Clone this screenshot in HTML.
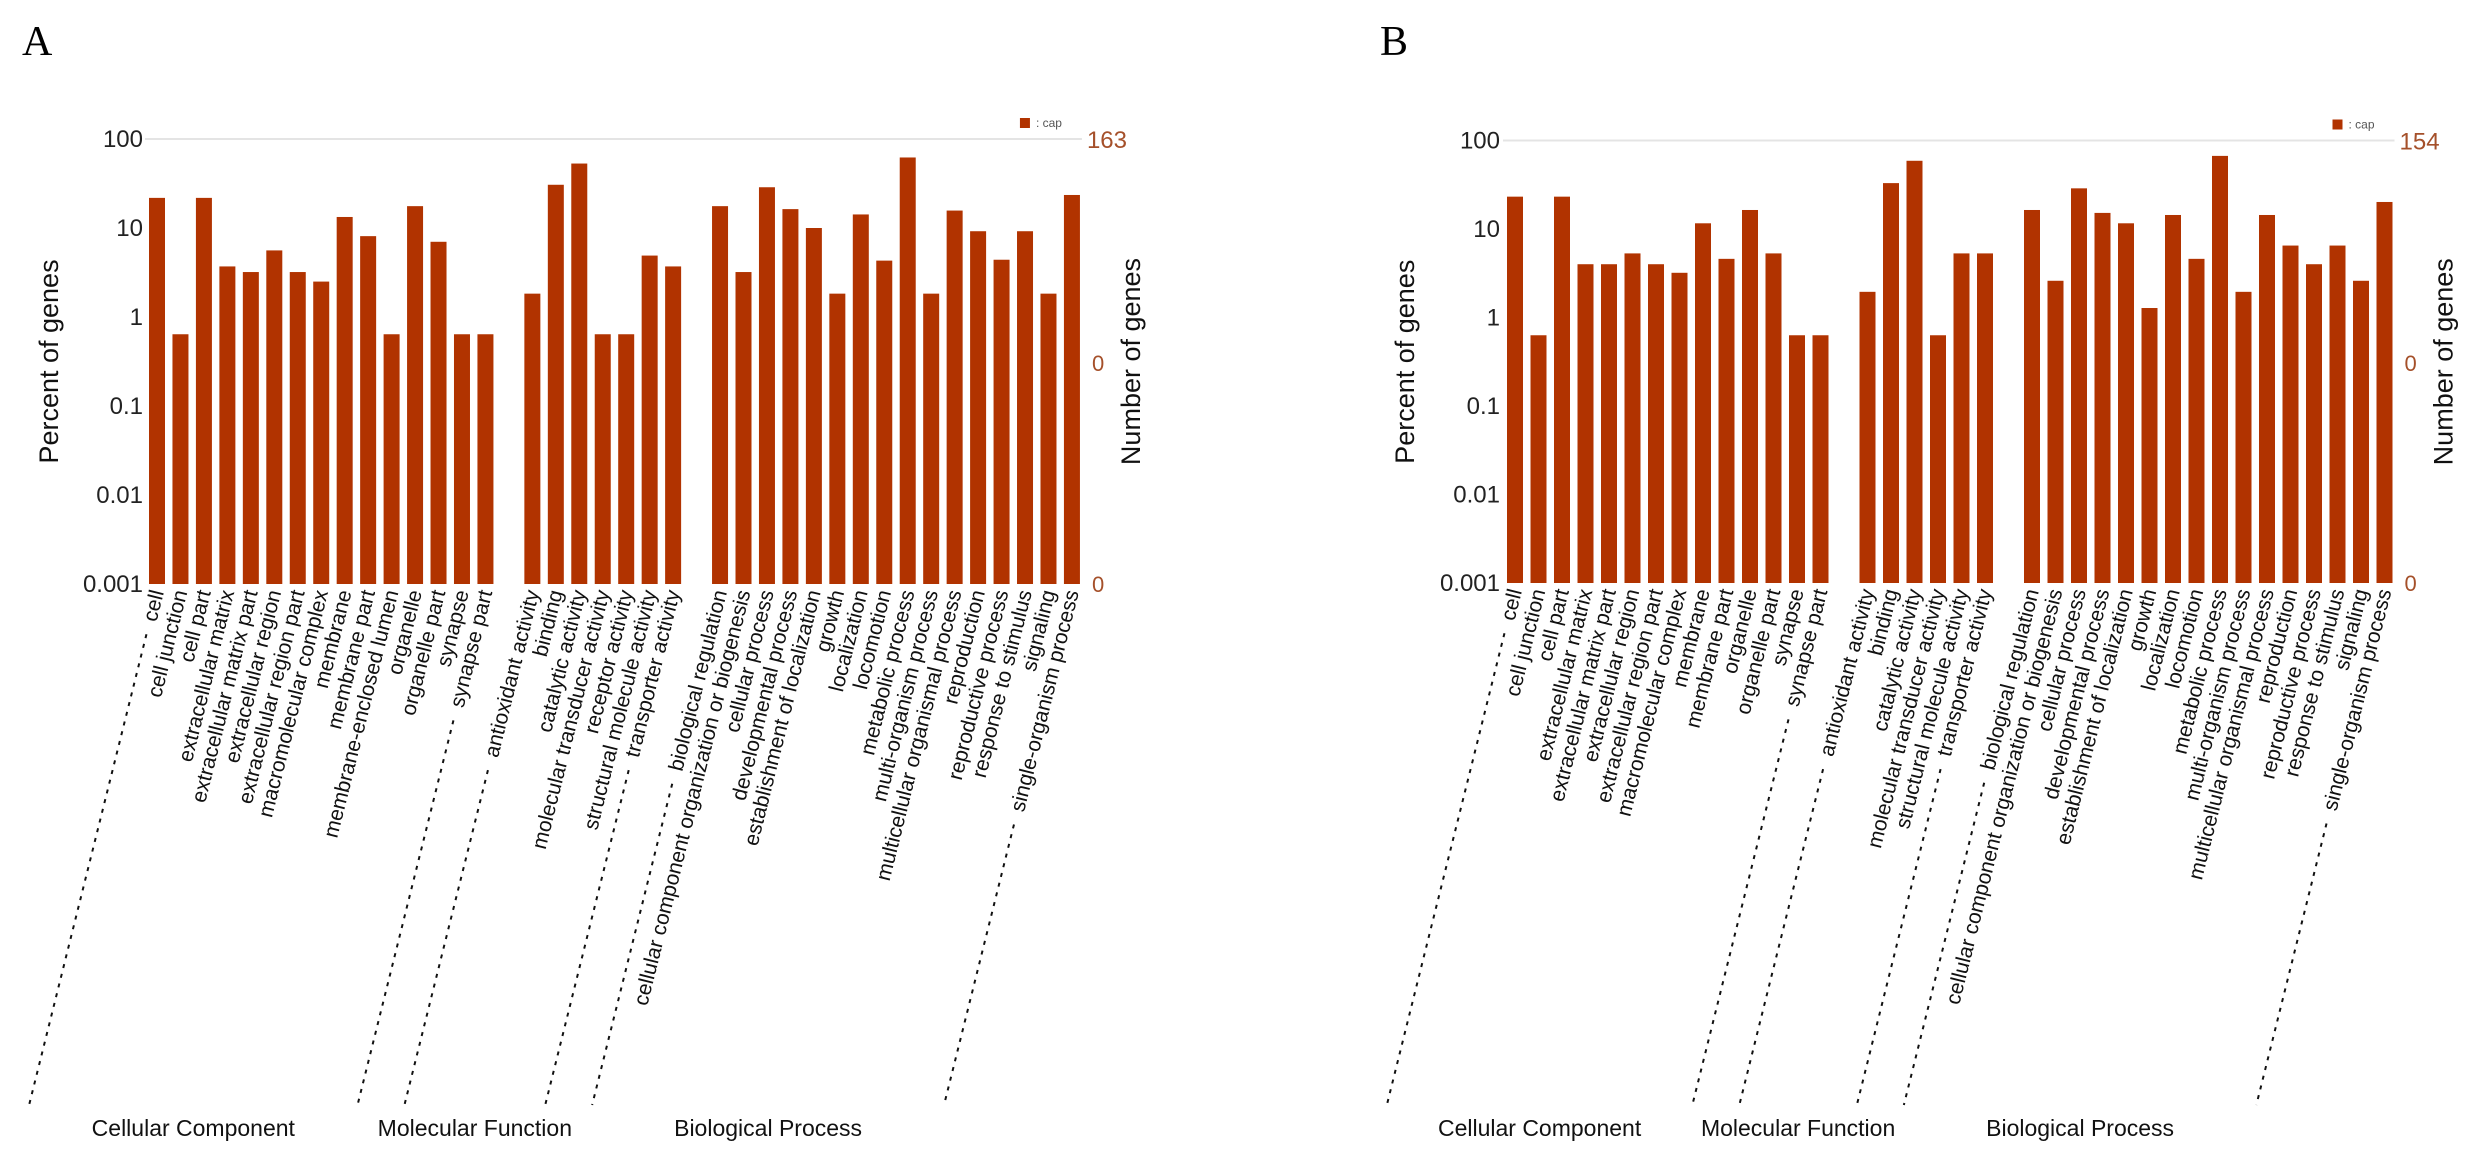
<!DOCTYPE html>
<html><head><meta charset="utf-8"><style>
html,body{margin:0;padding:0;background:#fff;}
svg{display:block;}
text{font-family:"Liberation Sans",sans-serif;}
</style></head><body>
<svg id="fig" width="2466" height="1155" viewBox="0 0 2466 1155" xmlns="http://www.w3.org/2000/svg">
<rect width="2466" height="1155" fill="#fff"/>
<text x="22" y="55" font-size="42" style="font-family:'Liberation Serif',serif" fill="#000">A</text>
<text x="1380" y="55" font-size="42" style="font-family:'Liberation Serif',serif" fill="#000">B</text>
</svg>
<script>
// ---- data ----
const groupNames = ["Cellular Component","Molecular Function","Biological Process"];
const ccLabelsA = ["cell","cell junction","cell part","extracellular matrix","extracellular matrix part","extracellular region","extracellular region part","macromolecular complex","membrane","membrane part","membrane-enclosed lumen","organelle","organelle part","synapse","synapse part"];
const ccValuesA = [21.8,0.64,21.8,3.7,3.2,5.6,3.2,2.5,13.3,8.1,0.64,17.6,7.0,0.64,0.64];
const mfLabelsA = ["antioxidant activity","binding","catalytic activity","molecular transducer activity","receptor activity","structural molecule activity","transporter activity"];
const mfValuesA = [1.83,30.6,53,0.64,0.64,4.9,3.7];
const bpLabelsA = ["biological regulation","cellular component organization or biogenesis","cellular process","developmental process","establishment of localization","growth","localization","locomotion","metabolic process","multi-organism process","multicellular organismal process","reproduction","reproductive process","response to stimulus","signaling","single-organism process"];
const bpValuesA = [17.6,3.2,28.7,16.3,10,1.83,14.2,4.3,62,1.83,15.7,9.2,4.4,9.2,1.83,23.5];
const ccLabelsB = ["cell","cell junction","cell part","extracellular matrix","extracellular matrix part","extracellular region","extracellular region part","macromolecular complex","membrane","membrane part","organelle","organelle part","synapse","synapse part"];
const ccValuesB = [23.2,0.63,23.2,4.0,4.0,5.3,4.0,3.2,11.6,4.6,16.4,5.3,0.63,0.63];
const mfLabelsB = ["antioxidant activity","binding","catalytic activity","molecular transducer activity","structural molecule activity","transporter activity"];
const mfValuesB = [1.95,33,59,0.63,5.3,5.3];
const bpLabelsB = ["biological regulation","cellular component organization or biogenesis","cellular process","developmental process","establishment of localization","growth","localization","locomotion","metabolic process","multi-organism process","multicellular organismal process","reproduction","reproductive process","response to stimulus","signaling","single-organism process"];
const bpValuesB = [16.4,2.6,28.8,15.2,11.6,1.28,14.4,4.6,67,1.95,14.4,6.5,4.0,6.5,2.6,20.2];
const yTickLabels = ["100","10","1","0.1","0.01","0.001"];
const yTickValues = [100,10,1,0.1,0.01,0.001];
const rightMaxA = "163";
const rightMaxB = "154";

const NS = "http://www.w3.org/2000/svg";
const svg = document.getElementById("fig");
function el(tag, attrs, parent){
  const e = document.createElementNS(NS, tag);
  for (const k in attrs) e.setAttribute(k, attrs[k]);
  (parent||svg).appendChild(e);
  return e;
}
const BAR = "#b13300";
const ANG = -76;
const rad = ANG*Math.PI/180;
const dx = Math.cos(rad), dy = Math.sin(rad);

function drawPanel(p, groups, rightMax, tag){
  const g = el("g", {});
  
  
  const yScale = v => p.y100 + (2 - Math.log10(v)) * p.dec;
  const yBase = yScale(0.001);
  const nSlots = groups.reduce((s,gr)=>s+gr.labels.length,0) + groups.length - 1;
  const plotR = p.x0 + p.slot*(nSlots-1) + 16;
  const gl = el("line", {x1:p.x0-4, x2:plotR+2, y1:p.y100, y2:p.y100, stroke:"#e4e4e4", "stroke-width":2}, g);
  
  
  yTickValues.forEach((v,i)=>{
    const t = el("text", {x:p.labelX, y:yScale(v)+8, "font-size":24, "text-anchor":"end", fill:"#222"}, g);
    t.textContent = yTickLabels[i];
    
    
  });
  const yt = el("text", {x:0, y:0, "font-size":27, "text-anchor":"middle", fill:"#111", transform:`translate(${p.titleX},${(p.y100+yBase)/2}) rotate(-90)`}, g);
  yt.textContent = "Percent of genes";
  
  
  const rx = plotR + 7;
  const r1 = el("text", {x:rx, y:p.y100+9, "font-size":24, fill:"#a5502a"}, g);
  r1.textContent = rightMax;
  
  
  [ 363, yBase ].forEach(yy=>{
    const r = el("text", {x:rx+5, y:yy+8, "font-size":22, fill:"#a5502a"}, g);
    r.textContent = "0";
    
    
  });
  const rt = el("text", {x:0, y:0, "font-size":27, "text-anchor":"middle", fill:"#111", transform:`translate(${plotR+60},${(p.y100+yBase)/2}) rotate(-90)`}, g);
  rt.textContent = "Number of genes";
  
  
  const lr = el("rect", {x:plotR-60, y:p.y100-21, width:10, height:10, fill:BAR}, g);
  
  
  const lt = el("text", {x:plotR-44, y:p.y100-12, "font-size":12, fill:"#555"}, g);
  lt.textContent = ": cap";
  
  
  let idx = 0;
  groups.forEach((gr, gi)=>{
    let firstStart=null, lastStart=null;
    gr.labels.forEach((lab, i)=>{
      const x = p.x0 + idx*p.slot;
      const y = yScale(gr.values[i]);
      const b = el("rect", {x:x, y:y, width:16, height:yBase-y, fill:BAR}, g);
      
      
      const ax = x + 15, ay = yBase + 8;
      const t = el("text", {x:ax, y:ay, "font-size":21, "text-anchor":"end", fill:"#111", transform:`rotate(${ANG},${ax},${ay})`}, g);
      t.textContent = lab;
      
      
      const L = t.getComputedTextLength();
      const sx = ax - 7 - dx*(L+12), sy = ay - dy*(L+12);
      if (i===0) firstStart=[sx,sy];
      if (i===gr.labels.length-1) lastStart=[sx,sy];
      idx++;
    });
    idx++;
    const ends = [];
    [firstStart,lastStart].forEach(s=>{
      const yEnd = 1105;
      const k = (yEnd - s[1]) / (-dy);
      const xe = s[0] - dx*k;
      ends.push(xe);
      const ln = el("line", {x1:s[0], y1:s[1], x2:xe, y2:yEnd, stroke:"#111", "stroke-width":2, "stroke-dasharray":"4,6"}, g);
      
      
    });
    const gt = el("text", {x:(ends[0]+ends[1])/2, y:1136, "font-size":23, "text-anchor":"middle", fill:"#111"}, g);
    gt.textContent = groupNames[gi];
    
    
  });
}

drawPanel({x0:149, slot:23.46, y100:139, dec:89, labelX:143, titleX:58},
  [{labels:ccLabelsA, values:ccValuesA},{labels:mfLabelsA, values:mfValuesA},{labels:bpLabelsA, values:bpValuesA}], rightMaxA, "a");
drawPanel({x0:1507, slot:23.5, y100:140.5, dec:88.5, labelX:1500, titleX:1414},
  [{labels:ccLabelsB, values:ccValuesB},{labels:mfLabelsB, values:mfValuesB},{labels:bpLabelsB, values:bpValuesB}], rightMaxB, "b");
</script>
</body></html>
